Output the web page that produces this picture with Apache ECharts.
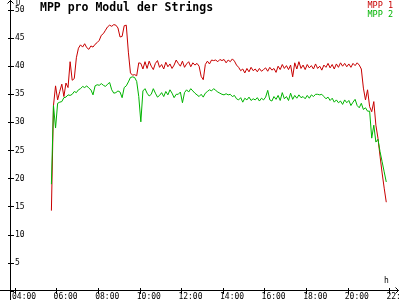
<!DOCTYPE html>
<html>
<head>
<meta charset="utf-8">
<script src="https://cdn.jsdelivr.net/npm/echarts@6/dist/echarts.min.js"></script>
<style>html,body{margin:0;padding:0;background:#fff}#c{width:400px;height:300px}</style>
</head>
<body>
<div id="c"></div>
<script>
// Sampling: first sample at 05:45, one sample every 0.1 h (6 min)
const startHour = 5.75;
const stepHour = 0.1;
const seriesNames = ['MPP 1', 'MPP 2'];
const titleText = 'MPP pro Modul der Strings';
const xTickHours = [4, 6, 8, 10, 12, 14, 16, 18, 20, 22];

const mpp1 = [
  14.3, 33, 36.5, 34, 35.5, 36.8, 34.6, 37, 36.2, 40.8,
  37.5, 37.8, 41.5, 43.2, 43.8, 43.4, 44.0, 43.3, 43.0, 43.6,
  43.4, 43.9, 44.2, 44.6, 45.5, 45.8, 46.4, 47.0, 47.3, 47.1,
  47.4, 47.3, 46.8, 45.2, 45.3, 47.2, 47.3, 42.5, 38.8, 38.4,
  38.5, 38.3, 40.6, 40.5, 39.5, 40.8, 39.6, 40.9, 40.0, 39.4,
  40.5, 41.0, 39.8, 40.3, 39.5, 40.7, 39.9, 40.4, 39.6, 40.2,
  41.1, 40.5, 40.0, 40.9, 39.8, 40.4, 40.8, 39.9, 40.6, 40.2,
  40.5, 40.0, 38.2, 37.6, 40.3, 40.9, 40.4, 41.1, 41.0, 41.1,
  40.8, 41.2, 41.0, 41.2, 40.6, 41.1, 40.8, 41.3, 40.9, 40.2,
  39.8, 39.2, 39.5, 38.8, 39.6, 39.0, 39.8, 39.2, 39.5, 39.0,
  39.6, 39.1, 39.4, 39.7, 39.1, 39.8, 39.3, 39.6, 38.9, 40.0,
  39.4, 40.3, 39.6, 40.1, 39.4, 40.2, 38.1, 40.6, 39.5, 40.8,
  39.6, 40.2, 39.4, 40.3, 39.7, 40.1, 39.5, 40.4, 39.6, 40.0,
  39.3, 40.2, 39.8, 40.5, 39.7, 40.3, 39.5, 40.4, 39.8, 40.6,
  40.0, 40.5, 39.9, 40.4, 39.8, 40.5, 40.1, 40.6, 40.2, 39.5,
  36.1, 34.0, 35.8, 32.8, 31.9, 33.7, 29.5, 27.2, 24.0, 21.0,
  18.3, 15.8
];

const mpp2 = [
  19.0, 33, 29.0, 33.4, 33.6, 33.7, 34.4, 34.5, 34.9, 34.8,
  35.0, 35.5, 35.3, 35.8, 36.0, 36.4, 36.2, 36.5, 36.1, 35.8,
  34.9, 36.5, 36.7, 36.6, 36.9, 36.6, 36.4, 36.8, 37.1, 35.8,
  35.2, 35.3, 35.6, 35.4, 34.4, 36.2, 36.5, 37.2, 38.0, 38.1,
  38.0, 37.3, 34.6, 30.1, 35.6, 36.0, 35.2, 34.7, 35.0, 36.0,
  35.2, 34.5, 34.8, 35.3, 34.6, 35.5, 34.9, 35.8, 35.2, 34.4,
  35.0, 35.0, 35.4, 33.5, 35.3, 35.8, 35.4, 36.0, 35.6, 35.2,
  34.9, 34.6, 35.0, 34.5, 35.2, 35.5, 35.8, 35.6, 36.0, 35.7,
  35.4, 35.2, 35.0, 34.9, 35.1, 34.9, 35.0, 34.6, 34.8, 34.2,
  34.0, 34.4, 33.6, 34.3, 34.0, 34.5, 33.9, 34.2, 34.0, 34.4,
  33.8, 34.3, 34.0, 34.5, 35.7, 34.0, 33.8, 34.6, 34.1, 34.8,
  33.9, 35.3, 34.2, 34.6, 33.9, 35.2, 34.1, 34.8, 34.3, 34.9,
  34.4, 34.6, 34.2, 34.8, 34.3, 34.9, 34.6, 35.0, 35.0, 34.9,
  35.0, 34.6, 34.2, 34.5, 33.9, 34.3, 33.6, 34.0, 33.5, 33.8,
  33.2, 34.0, 33.5, 33.9, 33.0, 33.6, 34.1, 33.0, 32.6, 33.4,
  32.3, 32.6, 32.0, 32.0, 27.2, 29.5, 26.5, 27.0, 24.8, 23.0,
  21.2, 19.4
];

const colors = ['#c80000', '#00b400'];
const mono = '"DejaVu Sans Mono", "Liberation Mono", monospace';

function pairs(vals) {
  return vals.map((v, i) => [+(startHour + i * stepHour).toFixed(2), v]);
}
function hh(v) {
  const h = Math.round(v);
  return (h < 10 ? '0' : '') + h + ':00';
}

const chart = echarts.init(document.getElementById('c'), null, {renderer: 'canvas'});
const xMin = xTickHours[0];
const xMax = 24;
const pxPerHour = 20.8;
const gridWidth = (xMax - xMin) * pxPerHour;
const option = {
  backgroundColor: '#ffffff',
  animation: false,
  title: {
    text: titleText, left: 40, top: 2, padding: 0,
    textStyle: {fontFamily: mono, fontWeight: 'bold', fontSize: 11.5, color: '#000'}
  },
  legend: {
    orient: 'vertical', right: 7, top: 1, padding: 0, itemWidth: 0, itemHeight: 0, itemGap: 0,
    icon: 'rect', selectedMode: false,
    textStyle: {fontFamily: mono, fontSize: 8.5, lineHeight: 8, padding: 0},
    data: [
      {name: seriesNames[0], textStyle: {color: colors[0]}},
      {name: seriesNames[1], textStyle: {color: colors[1]}}
    ]
  },
  grid: [
    {left: 15, width: gridWidth, top: 10, bottom: 9, containLabel: false, outerBoundsMode: 'none'},
    {left: 12, width: gridWidth, top: 10, bottom: 9, containLabel: false, outerBoundsMode: 'none'}
  ],
  xAxis: [
    {gridIndex: 0, type: 'value', min: xMin, max: xMax, interval: 2,
     axisLine: {show: false}, splitLine: {show: false},
     axisTick: {show: true, length: 3, lineStyle: {color: '#000'}},
     axisLabel: {show: false}},
    {gridIndex: 0, type: 'value', min: xMin, max: xMax, interval: 2,
     axisLine: {show: false}, splitLine: {show: false},
     axisTick: {show: true, inside: true, length: 3, lineStyle: {color: '#000'}},
     axisLabel: {show: false}, position: 'bottom'},
    {gridIndex: 1, type: 'value', min: xMin, max: xMax, interval: 2,
     axisLine: {show: false}, splitLine: {show: false}, axisTick: {show: false},
     axisLabel: {show: true, align: 'left', margin: 2, formatter: hh, hideOverlap: false,
       fontFamily: mono, fontSize: 8, color: '#000'}}
  ],
  yAxis: [
    {gridIndex: 0, type: 'value', min: 0, max: 50, interval: 5, offset: 4,
     axisLine: {show: false}, splitLine: {show: false},
     axisTick: {show: true, length: 3, lineStyle: {color: '#000'}},
     axisLabel: {show: true, inside: true, margin: 4, showMinLabel: false,
       fontFamily: mono, fontSize: 8, color: '#000'}},
    {gridIndex: 0, type: 'value', min: 0, max: 50, interval: 5, offset: 4, position: 'left',
     axisLine: {show: false}, splitLine: {show: false},
     axisTick: {show: true, inside: true, length: 3, lineStyle: {color: '#000'}},
     axisLabel: {show: false}},
    {gridIndex: 1, type: 'value', min: 0, max: 50, show: false}
  ],
  graphic: [
    {type: 'line', shape: {x1: 10.5, y1: 0, x2: 10.5, y2: 300}, style: {stroke: '#000', lineWidth: 1}, silent: true},
    {type: 'polyline', shape: {points: [[7.5, 3.5], [10.5, 0.5], [13.5, 3.5]]}, style: {stroke: '#000', lineWidth: 1, fill: null}, silent: true},
    {type: 'line', shape: {x1: 0, y1: 290.5, x2: 399, y2: 290.5}, style: {stroke: '#000', lineWidth: 1}, silent: true},
    {type: 'polyline', shape: {points: [[395.5, 287.5], [398.5, 290.5], [395.5, 293.5]]}, style: {stroke: '#000', lineWidth: 1, fill: null}, silent: true},
    {type: 'text', left: 16, top: 0, style: {text: 'U', font: '7px ' + mono, fill: '#000'}, silent: true},
    {type: 'text', left: 384, top: 277, style: {text: 'h', font: '8px ' + mono, fill: '#000'}, silent: true}
  ],
  series: [
    {name: seriesNames[0], type: 'line', xAxisIndex: 0, yAxisIndex: 0, data: pairs(mpp1),
     showSymbol: false, symbol: 'none', lineStyle: {color: colors[0], width: 1}, itemStyle: {color: colors[0]}},
    {name: seriesNames[1], type: 'line', xAxisIndex: 0, yAxisIndex: 0, data: pairs(mpp2),
     showSymbol: false, symbol: 'none', lineStyle: {color: colors[1], width: 1}, itemStyle: {color: colors[1]}}
  ]
};
chart.setOption(option);
</script>
</body>
</html>
